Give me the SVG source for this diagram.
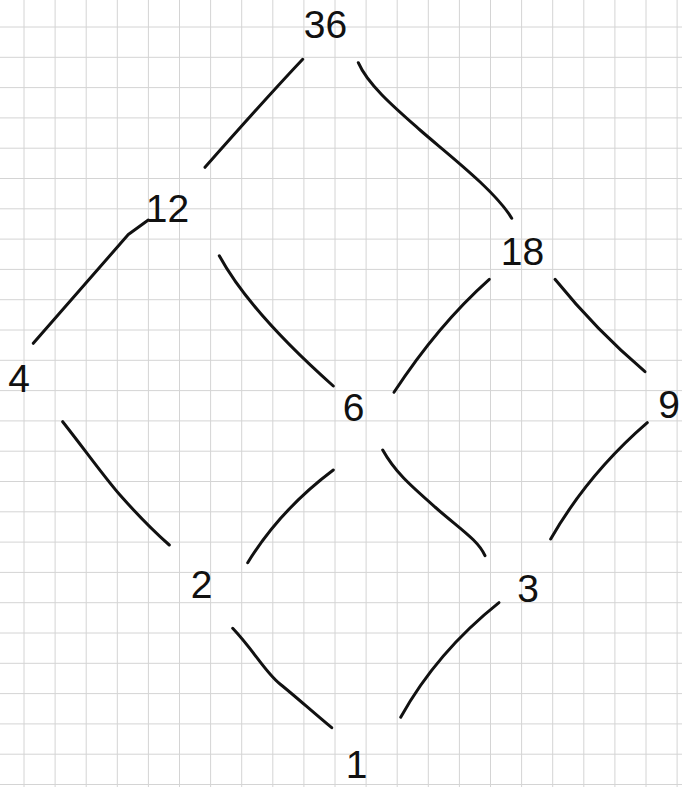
<svg xmlns="http://www.w3.org/2000/svg" width="682" height="787" viewBox="0 0 682 787">
<style>
.grid{stroke:#d4d4d4;stroke-width:1;fill:none}
.edge{stroke:#111;stroke-width:3;fill:none;stroke-linecap:round;stroke-linejoin:round}
.lbl{font-family:"Liberation Sans",Arial,sans-serif;font-size:39px;fill:#111;text-anchor:middle}
</style>
<rect width="682" height="787" fill="#ffffff"/>
<g id="grid" class="grid">
<path d="M24 0V787M55.1 0V787M86.2 0V787M117.3 0V787M148.4 0V787M179.5 0V787M210.6 0V787M241.7 0V787M272.8 0V787M303.9 0V787M335 0V787M366.1 0V787M397.2 0V787M428.3 0V787M459.4 0V787M490.5 0V787M521.6 0V787M552.7 0V787M583.8 0V787M614.9 0V787M646 0V787M677.1 0V787"/>
<path d="M0 27H682M0 57.3H682M0 87.6H682M0 117.9H682M0 148.2H682M0 178.5H682M0 208.8H682M0 239.1H682M0 269.4H682M0 299.7H682M0 330H682M0 360.3H682M0 390.6H682M0 420.9H682M0 451.2H682M0 481.5H682M0 511.8H682M0 542.1H682M0 572.4H682M0 602.7H682M0 633H682M0 663.3H682M0 693.6H682M0 723.9H682M0 754.2H682M0 784.5H682"/>
</g>
<g id="connectors" class="edge">
<path d="M302.7 59.3Q268 96 205 167.3"/>
<path d="M358.3 62.7C368 85 395 108 420 130S495 190 511.7 218.3"/>
<path d="M148.3 220L128.3 234.5L33.3 343.3"/>
<path d="M219.3 255.7Q250 312 333.3 386"/>
<path d="M489.3 279.3Q438 325 394 392.3"/>
<path d="M555 279.3Q596 330 645 371.7"/>
<path d="M62.7 421.7C85 450 105 478 120 495S150 528 169.3 545"/>
<path d="M333.3 470Q280 510 247.7 562.7"/>
<path d="M382.7 450C395 472 410 485 435 507S478 540 485 555.7"/>
<path d="M647.3 422.7Q588 474 550.7 539"/>
<path d="M232.7 628.3C255 652 265 672 280 684S315 714 331.7 727.7"/>
<path d="M499 602.7Q437 652 400.7 717.3"/>
</g>
<g id="n36"><text class="lbl" x="325.5" y="38">36</text></g>
<g id="n12"><text class="lbl" x="167.5" y="222">12</text></g>
<g id="n18"><text class="lbl" x="522.5" y="265">18</text></g>
<g id="n4"><text class="lbl" x="19" y="392">4</text></g>
<g id="n6"><text class="lbl" x="353.5" y="421">6</text></g>
<g id="n9"><text class="lbl" x="669" y="418">9</text></g>
<g id="n2"><text class="lbl" x="201.5" y="598">2</text></g>
<g id="n3"><text class="lbl" x="528" y="602">3</text></g>
<g id="n1"><text class="lbl" x="356.5" y="778">1</text></g>
</svg>
